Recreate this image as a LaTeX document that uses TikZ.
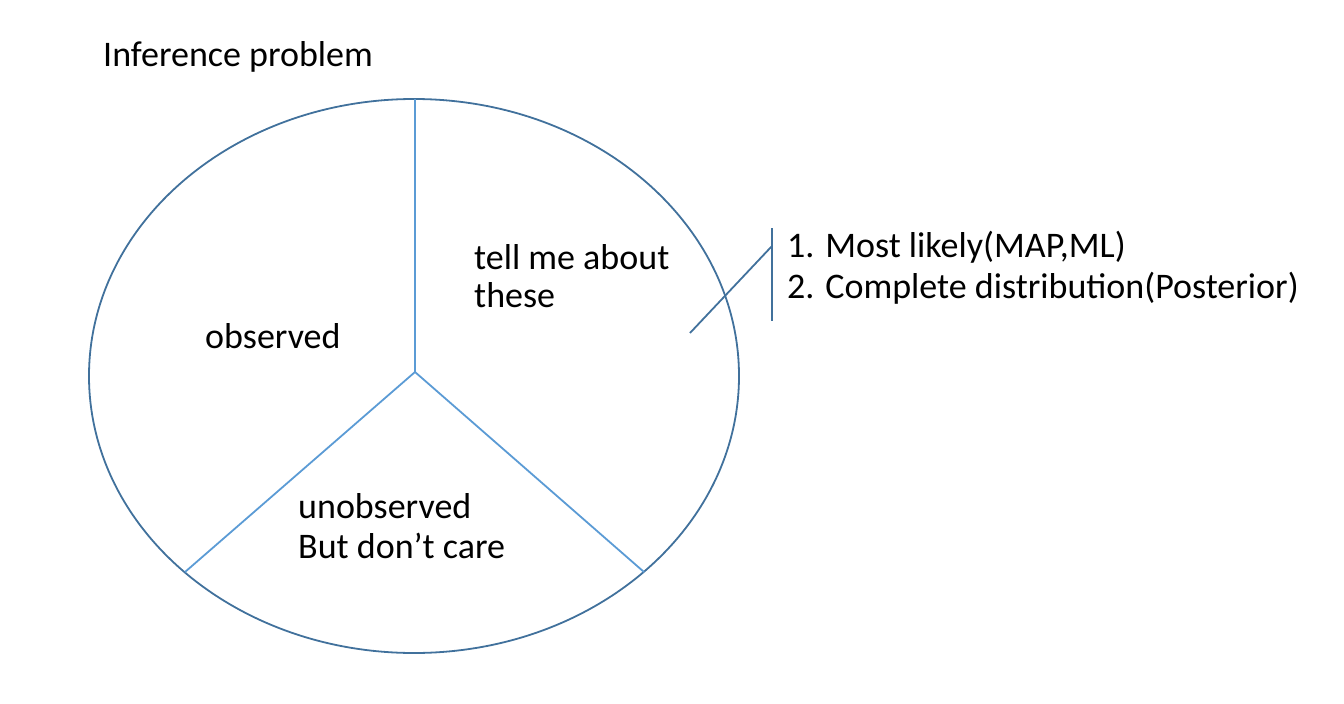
\documentclass[tikz,border=0pt]{standalone}
\usepackage{fontspec}
\setmainfont{Carlito}
\definecolor{outl}{HTML}{41719C}
\definecolor{ln}{HTML}{5B9BD5}
\begin{document}
\begin{tikzpicture}[x=1pt,y=-1pt,
  lbl/.style={anchor=base west,inner sep=0pt,font=\fontsize{36}{42}\selectfont},
  part/.style={draw=ln,line width=1.8pt},
  edge/.style={draw=outl,line width=1.8pt}]
\useasboundingbox (0,0) rectangle (1344,704);
\draw[edge] (414,376) ellipse [x radius=325, y radius=277];
\coordinate (c) at (415,372);
\coordinate (t) at (415,99);
\coordinate (l) at (185,572);
\coordinate (r) at (644,572);
\draw[part] (c) -- (t);
\draw[part] (c) -- (l);
\draw[part] (c) -- (r);
\coordinate (b1) at (772,228);
\coordinate (b2) at (772,321);
\coordinate (d1) at (690,333);
\coordinate (d2) at (772,246);
\draw[edge] (b1) -- (b2);
\draw[edge] (d1) -- (d2);
\node[lbl] (title) at (103,66) {Inference problem};
\node[lbl] (tell) at (474,269) {tell me about};
\node[lbl] (these) at (474,307) {these};
\node[lbl] (obs) at (205,348) {observed};
\node[lbl] (unobs) at (298,518) {unobserved};
\node[lbl] (care) at (298,558) {But don’t care};
\node[lbl] (i1) at (787,257) {1. Most likely(MAP,ML)};
\node[lbl] (i2) at (787,298) {2. Complete distribution(Posterior)};
\end{tikzpicture}
\end{document}
